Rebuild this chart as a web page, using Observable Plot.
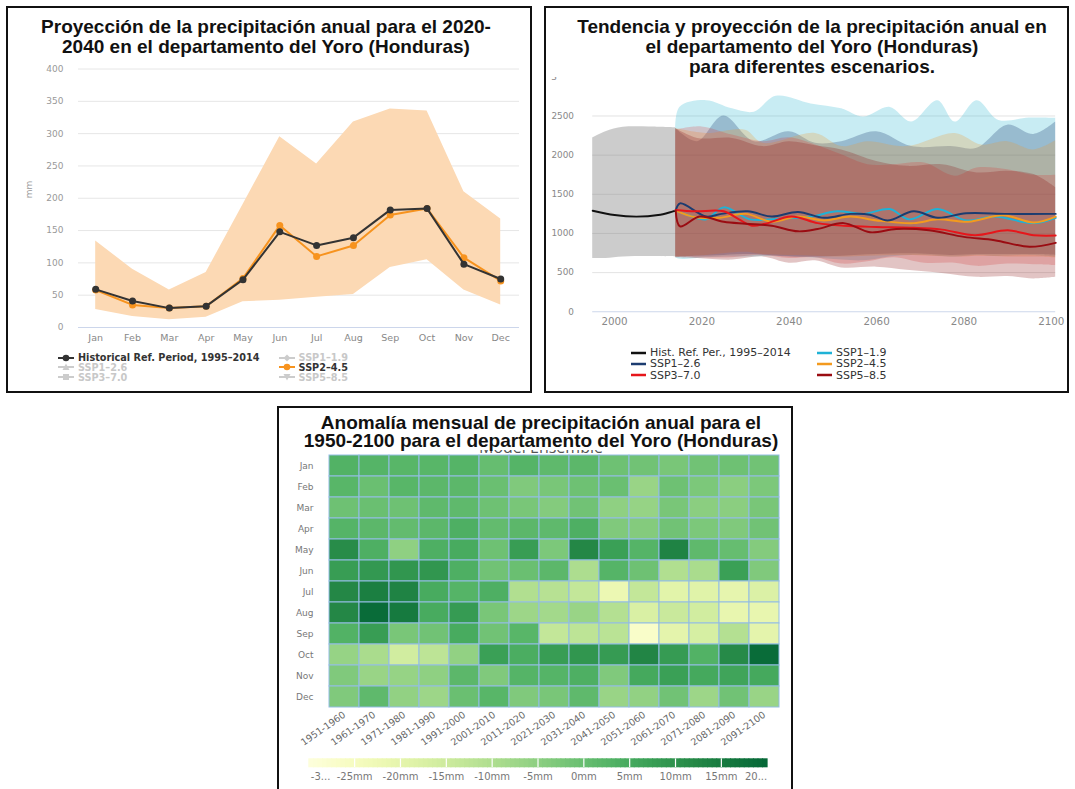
<!DOCTYPE html>
<html><head><meta charset="utf-8">
<script src="https://cdn.jsdelivr.net/npm/d3@7"></script>
<script src="https://cdn.jsdelivr.net/npm/@observablehq/plot@0.6"></script>
<style>
body{margin:0;width:1075px;height:789px;overflow:hidden;background:#fff;position:relative;font-family:"DejaVu Sans",sans-serif}
.abs{position:absolute}
.box{position:absolute;border:2px solid #111;box-sizing:border-box;pointer-events:none}
.title{position:absolute;font-family:"Liberation Sans",Arial,sans-serif;font-weight:bold;color:#111;text-align:center;background:#fff;font-size:19px;line-height:20px;white-space:nowrap}
.leg{position:absolute;white-space:nowrap;display:flex;align-items:center;height:12px}
.leg svg{display:block}
</style></head><body>
<div id="c1" class="abs" style="left:0;top:0"></div>
<div id="c2" class="abs" style="left:540px;top:0;width:527px;height:400px;overflow:hidden"></div>
<div id="c3" class="abs" style="left:275px;top:400px"></div>
<div id="c3leg" class="abs" style="left:300px;top:750px"></div>
<div class="abs" style="left:280px;top:450px;width:522px;height:6px;overflow:hidden"><div style="position:absolute;left:0;top:-12px;width:522px;text-align:center;font-family:'Open Sans',sans-serif;font-size:16px;color:#555;line-height:18px">Model Ensemble</div></div>
<div class="title" style="left:9px;top:17px;width:514px">Proyección de la precipitación anual para el 2020-<br>2040 en el departamento del Yoro (Honduras)</div>
<div class="title" style="left:550px;top:17px;width:524px">Tendencia y proyección de la precipitación anual en<br>el departamento del Yoro (Honduras)<br>para diferentes escenarios.</div>
<div class="title" style="left:280px;top:409px;width:522px;height:35px;padding-top:5px;line-height:17.5px">Anomalía mensual de precipitación anual para el<br>1950-2100 para el departamento del Yoro (Honduras)</div>
<div id="leg1"></div>
<div id="leg2"></div>
<div class="box" style="left:6px;top:6px;width:526px;height:387px"></div>
<div class="box" style="left:544px;top:6px;width:525px;height:387px"></div>
<div class="box" style="left:277px;top:406px;width:516px;height:400px"></div>
<script>
// ---------- Chart 1 data ----------
const months = ["Jan","Feb","Mar","Apr","May","Jun","Jul","Aug","Sep","Oct","Nov","Dec"];
const monthIndex = [0,1,2,3,4,5,6,7,8,9,10,11];
const histMonthly   = [59, 41, 30, 33, 74, 148, 127, 139, 182, 184, 98, 75];
const ssp245Monthly = [58, 35, 30, 33, 76, 158, 110, 127, 174, 184, 108, 72];
const ssp245Low     = [28, 17, 12, 16, 40, 42, 47, 51, 93, 105, 58, 35];
const ssp245High    = [134, 90, 58, 85, 190, 295, 253, 318, 338, 335, 210, 168];
const yTicks1 = [0,50,100,150,200,250,300,350,400];

// ---------- Chart 2 data ----------
const histYears = [1995, 2000, 2005, 2010, 2014];
const histAnnual = [1290, 1235, 1215, 1235, 1292];
const histBandYears = [1995, 1998, 2002, 2008, 2014];
const histBandLow = [680, 680, 700, 705, 700];
const histBandHigh = [2220, 2300, 2355, 2360, 2350];

const ssp119Years = [2014, 2017, 2021, 2025, 2031, 2037, 2045, 2051, 2057, 2063, 2067.5, 2074, 2080.5, 2087, 2096, 2101];
const ssp119Vals  = [1292, 1230, 1180, 1333, 1180, 1185, 1216, 1283, 1250, 1312, 1180, 1312, 1166, 1216, 1132, 1200];
const ssp126Years = [2014, 2015, 2021, 2024.5, 2030.5, 2036, 2042, 2048, 2054, 2058.5, 2062.5, 2068.5, 2074, 2080.5, 2090, 2101];
const ssp126Vals  = [1292, 1384, 1216, 1250, 1283, 1216, 1275, 1200, 1250, 1240, 1166, 1283, 1200, 1258, 1250, 1250];
const ssp245Years = [2014, 2018.5, 2024, 2030, 2036, 2042, 2048, 2054, 2060, 2068.5, 2074, 2081, 2089, 2096, 2101];
const ssp245Vals  = [1292, 1207, 1200, 1250, 1150, 1216, 1166, 1216, 1166, 1132, 1180, 1150, 1233, 1140, 1216];
const ssp370Years = [2014, 2018.5, 2025, 2028.5, 2031.5, 2034.5, 2040.5, 2046.5, 2052.5, 2060, 2067.5, 2075, 2082.5, 2090, 2096, 2101];
const ssp370Vals  = [1300, 1283, 1283, 1180, 1098, 1124, 1216, 1132, 1098, 1082, 1074, 1049, 978, 1040, 978, 974];
const ssp585Years = [2014, 2015, 2019.5, 2025, 2030, 2036, 2042, 2046.5, 2052.5, 2058.5, 2064.5, 2072, 2080, 2087, 2095, 2101];
const ssp585Vals  = [1292, 1090, 1216, 1149, 1124, 1098, 1027, 1057, 1132, 1015, 1057, 1040, 956, 914, 830, 880];

const band119Years = [2014, 2015, 2021, 2027, 2032, 2037, 2045, 2052, 2057, 2063, 2068, 2074, 2078, 2083, 2088, 2095, 2101];
const band119High  = [2340, 2612, 2696, 2591, 2549, 2751, 2654, 2591, 2486, 2612, 2423, 2696, 2423, 2696, 2444, 2474, 2470];
const band119Low   = [690, 670, 690, 700, 700, 710, 690, 660, 650, 700, 720, 710, 700, 720, 710, 720, 700];
const band126Years = [2014, 2019, 2025, 2032, 2040, 2046, 2052, 2060, 2068, 2077, 2083, 2090, 2096, 2101];
const band126High  = [2340, 2172, 2499, 2172, 2298, 2151, 2172, 2298, 2109, 2109, 2088, 2382, 2265, 2423];
const band126Low   = [700, 710, 720, 730, 700, 700, 710, 730, 740, 720, 730, 730, 730, 720];
const band245Years = [2014, 2021, 2030, 2034, 2046, 2052, 2058, 2067, 2078, 2084, 2090, 2096, 2101];
const band245High  = [2340, 2277, 2319, 2151, 2277, 2109, 2172, 2109, 2277, 2130, 2172, 2067, 2183];
const band245Low   = [700, 720, 760, 730, 710, 700, 710, 720, 700, 710, 700, 700, 690];
const band370Years = [2014, 2020, 2027, 2034, 2040, 2046, 2052, 2058, 2064, 2071, 2078, 2083, 2090, 2096, 2101];
const band370High  = [2319, 2361, 2256, 2172, 2222, 2130, 2004, 1878, 1878, 1899, 1731, 1836, 1815, 1744, 1744];
const band370Low   = [700, 690, 690, 720, 680, 690, 610, 640, 690, 620, 620, 580, 610, 600, 590];
const band585Years = [2014, 2019, 2027, 2034, 2040, 2046, 2052, 2060, 2067, 2075, 2083, 2090, 2096, 2101];
const band585High  = [2340, 2214, 2214, 2109, 2172, 2120, 2067, 1920, 1857, 1878, 1773, 1794, 1752, 1585];
const band585Low   = [690, 680, 660, 700, 620, 650, 560, 570, 530, 490, 440, 450, 420, 440];

const xTicks2 = [2000, 2020, 2040, 2060, 2080, 2100];
const yTicks2 = [0, 500, 1000, 1500, 2000, 2500];
const yTopTick2 = [3000];
const yTopLabel2 = ["3"];

// ---------- Chart 3 data ----------
const decades = ["1951-1960","1961-1970","1971-1980","1981-1990","1991-2000","2001-2010","2011-2020","2021-2030","2031-2040","2041-2050","2051-2060","2061-2070","2071-2080","2081-2090","2091-2100"];
const anomJan = [3, 2.5, 2, 2, 2.5, 0, 2.5, 1, 1.5, -1, -1.5, -2.5, -1.5, -1, -1.5];
const anomFeb = [2, -0.5, 2, 1.5, 1.5, -0.5, -3.5, -2.5, -1, -0.5, -7, -1, -3, -5, -3];
const anomMar = [-1, -0.5, -1, 1, 1, -1, -2.5, -4, -1.5, -5.5, -6.5, -2.5, -5, -5, -2.5];
const anomApr = [2.5, 1.5, 0.5, 1.5, 3.5, 0.5, 1.5, 1, 3.5, -3.5, -4, -1.5, -3, -3.5, -1.5];
const anomMay = [11, 3.5, -5.5, 3.5, 4.5, -1, 7.5, -3, 12, 7, 2.5, 13, 1, 0, -4];
const anomJun = [7.5, 8.5, 9, 9, 3.5, -1.5, -0.5, 1.5, -10, 2.5, -1, -10.5, -9.5, 7, -3.5];
const anomJul = [12, 14, 13, 4.5, 2.5, 3.5, -10.5, -11.5, -13.5, -22, -13.5, -19.5, -19, -20.5, -18];
const anomAug = [12, 18.5, 15, 4.5, 8, -2.5, -7.5, -8.5, -7, -11, -17.5, -14.5, -16, -21, -21];
const anomSep = [3, 7.5, -2.5, -1.5, 4.5, -1.5, 2, -13.5, -12.5, -12, -27, -20, -17, -11, -20];
const anomOct = [-6.5, -9.5, -16, -12.5, -6, 7, 4, 7.5, 9, 8, 12.5, 8, 3, 11.5, 18.5];
const anomNov = [-3.5, -7, -6.5, -5.5, 1.5, -3.5, 2.5, 2.5, 3.5, -3.5, 5, 7, 5, 6, 5];
const anomDec = [-3.5, 1, -6, -7.5, -0.5, 2, -3.5, -2.5, 1, -7, -6, -1.5, -7.5, -1.5, -7];
const anomaly = [anomJan, anomFeb, anomMar, anomApr, anomMay, anomJun, anomJul, anomAug, anomSep, anomOct, anomNov, anomDec];
const legendBreaks = [-30,-25,-20,-15,-10,-5,0,5,10,15,20];
const legendLabels = ["-3...","-25mm","-20mm","-15mm","-10mm","-5mm","0mm","5mm","10mm","15mm","20..."];

// ---------- Chart 1 ----------
const t1 = monthIndex.map(i => ({i, hist: histMonthly[i], ssp: ssp245Monthly[i], lo: ssp245Low[i], hi: ssp245High[i]}));
const p1 = Plot.plot({
  width: 540, height: 395, marginLeft: 78, marginRight: 21, marginTop: 68.5, marginBottom: 68,
  style: {background: "transparent", fontFamily: "DejaVu Sans, sans-serif", overflow: "visible"},
  x: {domain: [-0.467, 11.51]},
  y: {domain: [0, 400]},
  marks: [
    Plot.gridY(yTicks1.slice(1), {stroke: "#e6e6e6", strokeOpacity: 1}),
    Plot.areaY(t1, {x: "i", y1: "lo", y2: "hi", fill: "#fcd9b4", fillOpacity: 1}),
    Plot.ruleY([0], {stroke: "#ccd6eb"}),
    Plot.line(t1, {x: "i", y: "ssp", stroke: "#f7931e", strokeWidth: 2}),
    Plot.dot(t1, {x: "i", y: "ssp", r: 3.5, fill: "#f7931e"}),
    Plot.line(t1, {x: "i", y: "hist", stroke: "#333", strokeWidth: 2}),
    Plot.dot(t1, {x: "i", y: "hist", r: 3.5, fill: "#333"}),
    Plot.axisY({ticks: yTicks1, tickSize: 0, tickPadding: 15, fontSize: 9, color: "#999", label: null}),
    Plot.axisX({ticks: monthIndex, tickFormat: i => months[i], tickSize: 0, tickPadding: 7, fontSize: 9.5, color: "#888", label: null}),
    Plot.text(["mm"], {frameAnchor: "left", dx: -49, rotate: -90, fontSize: 9, fill: "#999"})
  ]
});
document.getElementById("c1").appendChild(p1);

// ---------- Chart 2 ----------
const mk = (ys, vs) => ys.map((y, i) => ({year: y, v: vs[i]}));
const mkBand = (ys, lo, hi) => ys.map((y, i) => ({year: y, lo: lo[i], hi: hi[i]}));
const curve = "catmull-rom";
const scen = [
  {name: "SSP1-1.9", color: "#1fb2d6", band: "#33b9d3", op: 0.27, line: mk(ssp119Years, ssp119Vals), b: mkBand(band119Years, band119Low, band119High)},
  {name: "SSP1-2.6", color: "#1c3c70", band: "#18366e", op: 0.27, line: mk(ssp126Years, ssp126Vals), b: mkBand(band126Years, band126Low, band126High)},
  {name: "SSP2-4.5", color: "#f39a1e", band: "#f0962a", op: 0.25, line: mk(ssp245Years, ssp245Vals), b: mkBand(band245Years, band245Low, band245High)},
  {name: "SSP3-7.0", color: "#e6161b", band: "#e61e1e", op: 0.2, line: mk(ssp370Years, ssp370Vals), b: mkBand(band370Years, band370Low, band370High)},
  {name: "SSP5-8.5", color: "#9a0c12", band: "#8c1414", op: 0.25, line: mk(ssp585Years, ssp585Vals), b: mkBand(band585Years, band585Low, band585High)}
];
const lineOrder = [0, 2, 1, 3, 4];
const p2 = Plot.plot({
  width: 535, height: 400, marginLeft: 53, marginRight: 12, marginTop: 77.5, marginBottom: 84,
  style: {background: "transparent", fontFamily: "DejaVu Sans, sans-serif", overflow: "visible"},
  x: {domain: [1995, 2101]},
  y: {domain: [0, 3000]},
  marks: [
    Plot.gridY(yTicks2.slice(1), {stroke: "#e3e3e3", strokeOpacity: 1}),
    Plot.ruleY([0], {stroke: "#ccd6eb"}),
    Plot.areaY(mkBand(histBandYears, histBandLow, histBandHigh), {x: "year", y1: "lo", y2: "hi", fill: "#808080", fillOpacity: 0.4, curve}),
    ...scen.map(s => Plot.areaY(s.b, {x: "year", y1: "lo", y2: "hi", fill: s.band, fillOpacity: s.op, curve})),
    Plot.line(mk(histYears, histAnnual), {x: "year", y: "v", stroke: "#111", strokeWidth: 2, curve}),
    ...lineOrder.map(k => Plot.line(scen[k].line, {x: "year", y: "v", stroke: scen[k].color, strokeWidth: 2, curve})),
    Plot.axisY({ticks: yTicks2, tickFormat: "d", tickSize: 0, tickPadding: 19, fontSize: 9, color: "#888", label: null}),
    Plot.axisY({ticks: yTopTick2, tickFormat: (d, i) => yTopLabel2[i], textAnchor: "start", tickSize: 0, tickPadding: 42, fontSize: 9, color: "#888", label: null}),
    Plot.axisX({ticks: xTicks2, tickFormat: "d", tickSize: 0, tickPadding: 6, fontSize: 10.5, color: "#888", label: null})
  ]
});
document.getElementById("c2").appendChild(p2);

// ---------- Chart 3 ----------
const heatData = [];
anomaly.forEach((row, mi) => row.forEach((v, di) => heatData.push({month: months[mi], decade: decades[di], value: v})));
const colorOpts = {type: "linear", domain: [-30, 20], interpolate: t => d3.interpolateYlGn(0.03 + 0.85 * t)};
const p3 = Plot.plot({
  width: 530, height: 389, marginLeft: 48, marginRight: 20, marginTop: 54, marginBottom: 80.7,
  style: {background: "transparent", fontFamily: "DejaVu Sans, sans-serif", overflow: "visible"},
  x: {type: "band", domain: decades, padding: 0},
  y: {type: "band", domain: months, padding: 0},
  color: colorOpts,
  marks: [
    Plot.cell(heatData, {x: "decade", y: "month", fill: "value", stroke: "#93bde4", strokeWidth: 1}),
    Plot.axisY({tickSize: 0, tickPadding: 10, fontSize: 9, color: "#777", label: null}),
    Plot.axisX({tickSize: 0, tickPadding: 5, tickRotate: -35, fontSize: 9.5, color: "#666", label: null})
  ]
});
document.getElementById("c3").appendChild(p3);

const ramp = d3.range(-30, 20, 0.5).map(v => ({v}));
const pLeg = Plot.plot({
  width: 480, height: 39, marginLeft: 8.3, marginRight: 13.3, marginTop: 8.3, marginBottom: 21.7,
  style: {background: "transparent", fontFamily: "DejaVu Sans, sans-serif", overflow: "visible"},
  x: {domain: [-30, 20], axis: null},
  color: colorOpts,
  marks: [
    Plot.rect(ramp, {x1: "v", x2: d => d.v + 0.6, fill: "v"}),
    Plot.ruleX(legendBreaks.slice(1, -1), {stroke: "#fff", strokeWidth: 1.2}),
    Plot.text(legendBreaks.slice(0, 1), {x: d => d, text: () => legendLabels[0], frameAnchor: "bottom", dy: 11.7, dx: 2, textAnchor: "start", fontSize: 10, fill: "#777"}),
    Plot.text(legendBreaks.slice(1, -1), {x: d => d, text: (d, i) => legendLabels[i + 1], frameAnchor: "bottom", dy: 11.7, textAnchor: "middle", fontSize: 10, fill: "#777"}),
    Plot.text(legendBreaks.slice(-1), {x: d => d, text: () => legendLabels[legendLabels.length - 1], frameAnchor: "bottom", dy: 11.7, textAnchor: "end", fontSize: 10, fill: "#777"})
  ]
});
document.getElementById("c3leg").appendChild(pLeg);

// ---------- HTML legends ----------
const leg1Items = [
  {label: "Historical Ref. Period, 1995–2014", color: "#333", text: "#333", marker: "circle", x: 58, y: 357.7},
  {label: "SSP1–1.9", color: "#ccc", text: "#c8c8c8", marker: "diamond", x: 278.6, y: 357.7},
  {label: "SSP1–2.6", color: "#ccc", text: "#c8c8c8", marker: "triangle", x: 58, y: 367.3},
  {label: "SSP2–4.5", color: "#f7931e", text: "#333", marker: "circle", x: 278.6, y: 367.3},
  {label: "SSP3–7.0", color: "#ccc", text: "#c8c8c8", marker: "square", x: 58, y: 377},
  {label: "SSP5–8.5", color: "#ccc", text: "#c8c8c8", marker: "tridown", x: 278.6, y: 377}
];
const markerSvg = (m, c) => {
  const shapes = {
    circle: `<circle cx="8" cy="5" r="3.3" fill="${c}"/>`,
    diamond: `<path d="M8 1.5L11.5 5L8 8.5L4.5 5Z" fill="${c}"/>`,
    triangle: `<path d="M8 1.5L11.5 8L4.5 8Z" fill="${c}"/>`,
    square: `<rect x="5" y="2" width="6" height="6" fill="${c}"/>`,
    tridown: `<path d="M4.5 2L11.5 2L8 8.5Z" fill="${c}"/>`
  };
  return `<svg width="17" height="10"><line x1="0" y1="5" x2="16" y2="5" stroke="${c}" stroke-width="2"/>${shapes[m]}</svg>`;
};
document.getElementById("leg1").innerHTML = leg1Items.map(d =>
  `<div class="leg" style="left:${d.x}px;top:${d.y - 6}px;font-size:9.7px;font-weight:bold;color:${d.text}">${markerSvg(d.marker, d.color)}<span style="margin-left:3px">${d.label}</span></div>`
).join("");

const leg2Items = [
  {label: "Hist. Ref. Per., 1995–2014", color: "#111", x: 631, y: 352.7},
  {label: "SSP1–1.9", color: "#1fb2d6", x: 817, y: 352.7},
  {label: "SSP1–2.6", color: "#1c3c70", x: 631, y: 363.7},
  {label: "SSP2–4.5", color: "#f39a1e", x: 817, y: 363.7},
  {label: "SSP3–7.0", color: "#e6161b", x: 631, y: 375},
  {label: "SSP5–8.5", color: "#9a0c12", x: 817, y: 375}
];
document.getElementById("leg2").innerHTML = leg2Items.map(d =>
  `<div class="leg" style="left:${d.x}px;top:${d.y - 6}px;font-size:11px;color:#333"><svg width="16" height="10"><line x1="0" y1="5" x2="15" y2="5" stroke="${d.color}" stroke-width="2.5"/></svg><span style="margin-left:3px">${d.label}</span></div>`
).join("");
</script>
</body></html>
